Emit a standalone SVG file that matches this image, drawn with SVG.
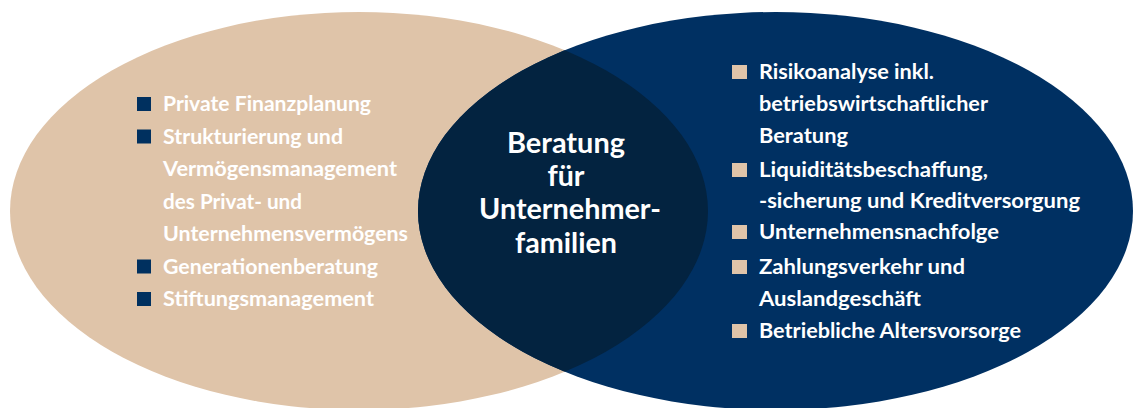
<svg xmlns="http://www.w3.org/2000/svg" width="1134" height="408" viewBox="0 0 1134 408">
  <defs>
    <style>
      .t { font-family: Lato, "Liberation Sans", sans-serif; font-weight: 700; font-size: 20px; fill: #ffffff; }
      .c { font-family: Lato, "Liberation Sans", sans-serif; font-weight: 700; font-size: 28px; fill: #ffffff; text-anchor: middle; }
      .bl { fill: #00305f; }
      .br { fill: #dfc4a9; }
    </style>
    <clipPath id="clipLeft">
      <ellipse cx="359" cy="211" rx="349" ry="199"/>
    </clipPath>
  </defs>
  <rect width="1134" height="408" fill="#ffffff"/>

  <g id="left-circle">
    <ellipse cx="359" cy="211" rx="349" ry="199" fill="#dfc4a9"/>
    <rect class="bl" x="137" y="97" width="14" height="14"/>
    <rect class="bl" x="137" y="129.5" width="14" height="14"/>
    <rect class="bl" x="137" y="259.5" width="14" height="14"/>
    <rect class="bl" x="137" y="292" width="14" height="14"/>
    <text class="t" x="163" y="111" textLength="208" lengthAdjust="spacingAndGlyphs">Private Finanzplanung</text>
    <text class="t" x="163" y="143.5" textLength="180" lengthAdjust="spacingAndGlyphs">Strukturierung und</text>
    <text class="t" x="163" y="176" textLength="234" lengthAdjust="spacingAndGlyphs">Vermögensmanagement</text>
    <text class="t" x="163" y="208.5" textLength="139" lengthAdjust="spacingAndGlyphs">des Privat- und</text>
    <text class="t" x="163" y="241" textLength="245" lengthAdjust="spacingAndGlyphs">Unternehmensvermögens</text>
    <text class="t" x="163" y="273.5" textLength="215" lengthAdjust="spacingAndGlyphs">Generationenberatung</text>
    <text class="t" x="163" y="306" textLength="211" lengthAdjust="spacingAndGlyphs">Stiftungsmanagement</text>
  </g>

  <g id="right-circle">
    <ellipse cx="775.5" cy="211" rx="357.5" ry="199" fill="#003062"/>
    <rect class="br" x="732" y="65" width="15" height="14"/>
    <rect class="br" x="732" y="163" width="15" height="14"/>
    <rect class="br" x="732" y="225" width="15" height="14"/>
    <rect class="br" x="732" y="260" width="15" height="14"/>
    <rect class="br" x="732" y="324" width="15" height="14"/>
    <text class="t" x="759" y="79" textLength="175" lengthAdjust="spacingAndGlyphs">Risikoanalyse inkl.</text>
    <text class="t" x="759" y="111" textLength="229" lengthAdjust="spacingAndGlyphs">betriebswirtschaftlicher</text>
    <text class="t" x="759" y="143" textLength="89" lengthAdjust="spacingAndGlyphs">Beratung</text>
    <text class="t" x="759" y="177" textLength="229" lengthAdjust="spacingAndGlyphs">Liquiditätsbeschaffung,</text>
    <text class="t" x="759" y="208" textLength="321" lengthAdjust="spacingAndGlyphs">-sicherung und Kreditversorgung</text>
    <text class="t" x="759" y="239" textLength="240" lengthAdjust="spacingAndGlyphs">Unternehmensnachfolge</text>
    <text class="t" x="759" y="274" textLength="206" lengthAdjust="spacingAndGlyphs">Zahlungsverkehr und</text>
    <text class="t" x="759" y="306" textLength="162" lengthAdjust="spacingAndGlyphs">Auslandgeschäft</text>
    <text class="t" x="759" y="338" textLength="262" lengthAdjust="spacingAndGlyphs">Betriebliche Altersvorsorge</text>
  </g>

  <g id="center-intersection">
    <ellipse cx="775.5" cy="211" rx="357.5" ry="199" fill="#032340" clip-path="url(#clipLeft)"/>
    <text class="c" x="566" y="153" textLength="118" lengthAdjust="spacingAndGlyphs">Beratung</text>
    <text class="c" x="566" y="186" textLength="37" lengthAdjust="spacingAndGlyphs">für</text>
    <text class="c" x="570" y="219" textLength="182" lengthAdjust="spacingAndGlyphs">Unternehmer-</text>
    <text class="c" x="566" y="253" textLength="102" lengthAdjust="spacingAndGlyphs">familien</text>
  </g>
</svg>
